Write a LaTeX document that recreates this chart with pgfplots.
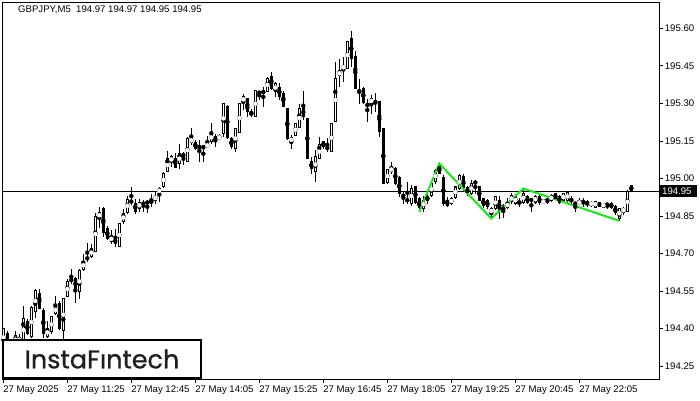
\documentclass[border=0pt]{standalone}
\usepackage{pgfplots}
\usepackage{pgfplotstable}
\pgfplotsset{compat=1.18}
\usepackage{fontspec}
\setmainfont{Liberation Sans}
\newfontfamily\logofont[FakeBold=0.8]{Poppins}
\definecolor{patgreen}{RGB}{20,235,20}

\pgfplotstableread{
i o h l c
0 194.33 194.405 194.31 194.40
1 194.38 194.39 194.30 194.33
2 194.33 194.36 194.30 194.35
3 194.34 194.391 194.33 194.372
4 194.35 194.381 194.34 194.364
5 194.35 194.49 194.345 194.443
6 194.431 194.44 194.375 194.381
7 194.368 194.49 194.362 194.484
8 194.471 194.561 194.443 194.552
9 194.541 194.561 194.478 194.481
10 194.471 194.484 194.362 194.381
11 194.371 194.43 194.362 194.401
12 194.388 194.452 194.381 194.448
13 194.461 194.531 194.458 194.49
14 194.501 194.512 194.394 194.401
15 194.394 194.525 194.35 194.521
16 194.528 194.599 194.528 194.59
17 194.601 194.638 194.578 194.588
18 194.601 194.605 194.501 194.558
19 194.548 194.641 194.521 194.632
20 194.637 194.70 194.63 194.67
21 194.679 194.741 194.668 194.683
22 194.69 194.74 194.685 194.72
23 194.707 194.861 194.705 194.85
24 194.841 194.885 194.801 194.867
25 194.881 194.885 194.767 194.787
26 194.801 194.81 194.755 194.761
27 194.748 194.794 194.741 194.77
28 194.761 194.801 194.728 194.738
29 194.728 194.823 194.725 194.821
30 194.828 194.881 194.821 194.861
31 194.867 194.93 194.861 194.917
32 194.908 194.967 194.894 194.91
33 194.901 194.917 194.858 194.867
34 194.881 194.921 194.867 194.907
35 194.90 194.917 194.867 194.902
36 194.908 194.914 194.861 194.901
37 194.907 194.941 194.887 194.909
38 194.914 194.947 194.90 194.93
39 194.941 194.967 194.907 194.961
40 194.967 195.027 194.961 195.021
41 195.027 195.11 195.027 195.08
42 195.067 195.094 195.047 195.087
43 195.08 195.10 195.04 195.047
44 195.06 195.138 195.04 195.10
45 195.10 195.107 195.054 195.087
46 195.067 195.167 195.067 195.161
47 195.147 195.204 195.134 195.16
48 195.147 195.154 195.115 195.12
49 195.131 195.154 195.067 195.12
50 195.13 195.133 195.067 195.12
51 195.127 195.17 195.125 195.138
52 195.147 195.223 195.14 195.183
53 195.17 195.18 195.127 195.147
54 195.16 195.18 195.154 195.17
55 195.18 195.30 195.167 195.30
56 195.29 195.295 195.157 195.167
57 195.16 195.165 195.12 195.127
58 195.12 195.20 195.107 195.20
59 195.187 195.30 195.187 195.30
60 195.307 195.34 195.274 195.327
61 195.32 195.32 195.247 195.267
62 195.258 195.28 195.247 195.262
63 195.247 195.351 195.247 195.351
64 195.342 195.351 195.314 195.345
65 195.351 195.367 195.287 195.34
66 195.347 195.407 195.347 195.40
67 195.409 195.427 195.353 195.36
68 195.347 195.387 195.327 195.38
69 195.364 195.383 195.314 195.327
70 195.34 195.351 195.287 195.287
71 195.28 195.28 195.153 195.16
72 195.147 195.174 195.12 195.164
73 195.17 195.22 195.17 195.22
74 195.207 195.297 195.207 195.28
75 195.284 195.351 195.234 195.247
76 195.24 195.24 195.08 195.08
77 195.067 195.087 195.02 195.04
78 195.027 195.114 194.987 195.087
79 195.08 195.164 195.08 195.134
80 195.147 195.15 195.12 195.127
81 195.121 195.164 195.107 195.125
82 195.107 195.22 195.107 195.22
83 195.227 195.467 195.227 195.40
84 195.41 195.48 195.367 195.43
85 195.44 195.484 195.387 195.449
86 195.44 195.55 195.44 195.547
87 195.56 195.59 195.447 195.48
88 195.489 195.51 195.36 195.36
89 195.35 195.40 195.30 195.345
90 195.36 195.365 195.30 195.307
91 195.30 195.32 195.227 195.287
92 195.30 195.333 195.26 195.32
93 195.31 195.34 195.267 195.30
94 195.31 195.31 195.167 195.187
95 195.20 195.20 194.98 194.98
96 194.985 195.04 194.98 195.035
97 195.027 195.067 195.02 195.047
98 195.04 195.045 194.975 194.98
99 195.007 195.01 194.927 194.94
100 194.93 194.947 194.90 194.932
101 194.918 194.987 194.90 194.91
102 194.90 194.974 194.89 194.96
103 194.967 194.97 194.90 194.907
104 194.92 194.927 194.867 194.887
105 194.883 194.93 194.867 194.914
106 194.927 194.94 194.90 194.914
107 194.934 194.98 194.927 194.98
108 194.987 195.04 194.98 195.031
109 195.047 195.06 195.02 195.02
110 195.007 195.014 194.89 194.90
111 194.911 194.927 194.887 194.894
112 194.901 194.927 194.894 194.92
113 194.927 194.97 194.92 194.967
114 194.96 195.02 194.954 195.014
115 195.007 195.017 194.947 194.967
116 194.967 194.97 194.93 194.94
117 194.94 194.994 194.935 194.98
118 194.983 194.994 194.94 194.987
119 194.967 194.97 194.91 194.914
120 194.92 194.925 194.885 194.894
121 194.914 194.92 194.88 194.887
122 194.861 194.887 194.84 194.881
123 194.881 194.927 194.874 194.927
124 194.914 194.93 194.84 194.874
125 194.894 194.90 194.841 194.866
126 194.884 194.921 194.878 194.907
127 194.907 194.941 194.90 194.934
128 194.901 194.94 194.894 194.93
129 194.903 194.921 194.887 194.907
130 194.907 194.954 194.901 194.941
131 194.93 194.934 194.90 194.907
132 194.914 194.921 194.867 194.916
133 194.907 194.934 194.90 194.93
134 194.93 194.934 194.894 194.907
135 194.907 194.92 194.90 194.912
136 194.912 194.921 194.901 194.914
137 194.914 194.941 194.907 194.934
138 194.941 194.941 194.914 194.92
139 194.93 194.934 194.90 194.907
140 194.914 194.945 194.907 194.941
141 194.914 194.946 194.907 194.944
142 194.912 194.93 194.90 194.916
143 194.90 194.907 194.867 194.903
144 194.901 194.921 194.894 194.907
145 194.905 194.921 194.887 194.909
146 194.902 194.914 194.887 194.905
147 194.894 194.91 194.887 194.905
148 194.887 194.911 194.883 194.909
149 194.905 194.907 194.885 194.887
150 194.887 194.905 194.883 194.901
151 194.895 194.904 194.881 194.899
152 194.901 194.905 194.878 194.885
153 194.89 194.894 194.854 194.863
154 194.841 194.881 194.832 194.881
155 194.867 194.887 194.854 194.881
156 194.867 194.954 194.867 194.947
157 194.97 194.97 194.95 194.95
}\candles

\begin{document}
\begin{tikzpicture}
\useasboundingbox (0,0) rectangle (700pt,400pt);
\fill[white] (0,0) rectangle (700pt,400pt);
\begin{axis}[
  at={(2.3pt,21pt)}, anchor=south west,
  scale only axis, width=657pt, height=377pt,
  xmin=-0.25, xmax=164, ymin=194.199, ymax=195.705,
  axis line style={black, line width=0.9pt},
  tick align=outside, major tick length=4pt,
  tick style={black, line width=0.8pt},
  xtick={0,16,...,144},
  xticklabels={27 May 2025,27 May 11:25,27 May 12:45,27 May 14:05,27 May 15:25,27 May 16:45,27 May 18:05,27 May 19:25,27 May 20:45,27 May 22:05},
  xtick pos=bottom,
  xticklabel style={anchor=north west, xshift=-3.5pt, yshift=1pt, font=\fontsize{9.6}{10}\selectfont},
  ytick={194.25,194.40,194.55,194.70,194.85,195.00,195.15,195.30,195.45,195.60},
  yticklabels={194.25,194.40,194.55,194.70,194.85,195.00,195.15,195.30,195.45,195.60},
  ytick pos=right,
  yticklabel style={anchor=west, xshift=-2pt, font=\fontsize{9.6}{10}\selectfont},
  clip=true,
]
% horizontal price line
\addplot[black, line width=0.8pt, forget plot] coordinates {(-1,194.95) (165,194.95)};
% wicks
\addplot[black, only marks, mark=none, forget plot,
  error bars/.cd, y dir=both, y explicit, error mark=none,
  error bar style={black, line width=1pt, solid}]
  table[x=i, y expr={(\thisrow{h}+\thisrow{l})/2}, y error expr={(\thisrow{h}-\thisrow{l})/2}] {\candles};
% bodies (outer black)
\addplot[black, only marks, mark=none, forget plot,
  error bars/.cd, y dir=both, y explicit, error mark=none,
  error bar style={black, line width=3pt, solid}]
  table[x=i, y expr={(\thisrow{o}+\thisrow{c})/2}, y error expr={abs(\thisrow{c}-\thisrow{o})/2+0.002}] {\candles};
% bull interiors (white); non-bull rows are moved just above the axis and clipped
\addplot[white, only marks, mark=none, forget plot,
  error bars/.cd, y dir=both, y explicit, error mark=none,
  error bar style={white, line width=1pt, solid}]
  table[x=i, y expr={(\thisrow{c}-\thisrow{o}>0.0045) ? ((\thisrow{o}+\thisrow{c})/2) : (195.9)}, y error expr={(\thisrow{c}-\thisrow{o}>0.0045) ? ((\thisrow{c}-\thisrow{o})/2-0.002) : (0.001)}] {\candles};
% pattern lines
\addplot[patgreen, line width=2pt, mark=none, forget plot] coordinates {
 (104,194.867) (109,195.06) (122,194.84) (130,194.96) (154,194.831)};
\end{axis}
% price label
\fill[black] (660pt,203pt) rectangle (697pt,215pt);
\node[white, anchor=west, inner sep=0pt, font=\fontsize{9.6}{10}\selectfont] at (662pt,209pt) {194.95};
% title
\node[anchor=base west, inner sep=0pt, font=\fontsize{9.6}{10}\selectfont] at (18pt,387pt) {GBPJPY,M5\ \ 194.97 194.97 194.95 194.95};
% logo
\draw[black, line width=2pt, fill=white] (3.3pt,22pt) rectangle (201pt,60pt);
\node[text=black!88, inner sep=0pt, font=\logofont\fontsize{25.5}{26}\selectfont] at (102pt,41pt) {InstaFıntech};
\end{tikzpicture}
\end{document}
